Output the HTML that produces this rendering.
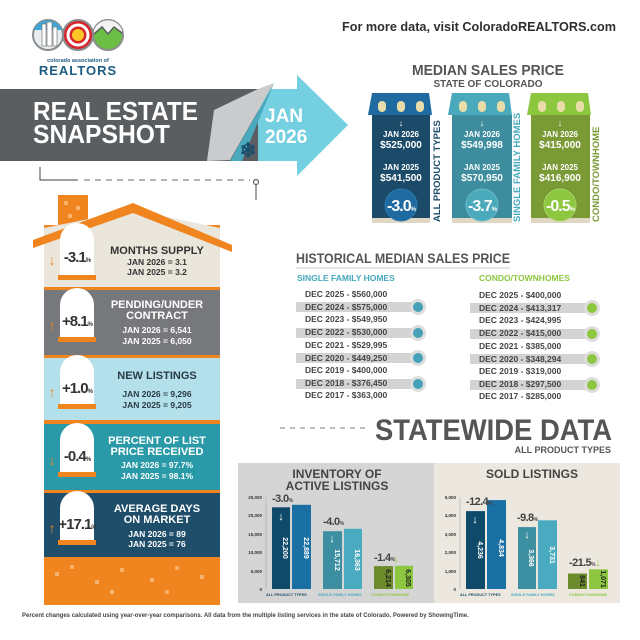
<!DOCTYPE html>
<html><head><meta charset="utf-8"><style>
html,body{margin:0;padding:0;background:#fff}
svg{display:block}
text{font-family:"Liberation Sans",sans-serif;font-weight:bold}
</style></head><body>
<svg width="640" height="640" viewBox="0 0 640 640" xmlns="http://www.w3.org/2000/svg">
<rect width="640" height="640" fill="#fff"/>
<!-- logo -->
<circle cx="48" cy="35" r="15" fill="#e8eef0" stroke="#8a8d8f" stroke-width="2"/>
<path d="M34 30 A15 15 0 0 1 62 30 Z" fill="#3ea6d8"/>
<rect x="42" y="24" width="4" height="22" fill="#fff" stroke="#777" stroke-width="0.7"/><rect x="47" y="22" width="5" height="24" fill="#fff" stroke="#777" stroke-width="0.7"/><rect x="53" y="27" width="4" height="19" fill="#fff" stroke="#777" stroke-width="0.7"/>
<circle cx="78" cy="35" r="15" fill="#d7252c" stroke="#8a8d8f" stroke-width="2"/>
<circle cx="78" cy="35" r="6" fill="#fdc628"/><circle cx="78" cy="35" r="10" fill="none" stroke="#fff" stroke-width="3"/>
<circle cx="108" cy="35" r="15" fill="#6cbf45" stroke="#8a8d8f" stroke-width="2"/>
<path d="M94 30 A15 15 0 0 1 122 30 L122 32 L114 27 L108 34 L102 27 L94 34Z" fill="#f3f3f3"/>
<path d="M94 34 L102 27 L108 34 L114 27 L122 33" fill="none" stroke="#5a5e61" stroke-width="1.5"/>
<text x="78" y="62" font-size="5.5" fill="#1d5c82" text-anchor="middle" font-weight="normal">colorado association of</text>
<text x="78" y="75" font-size="13" fill="#1d5c82" text-anchor="middle" font-weight="normal" letter-spacing="1">REALTORS</text>
<text x="342" y="31" font-size="13" fill="#2f2f2f" textLength="274" lengthAdjust="spacingAndGlyphs">For more data, visit ColoradoREALTORS.com</text>
<!-- banner -->
<path d="M245 89 L297 89 L297 75 L348 125 L297 176 L297 161 L205 161 Z" fill="#74cfe0"/>
<rect x="0" y="89" width="258" height="72" fill="#5a5e61"/>
<path d="M258 89 L274 83 L230 160 L207 161 L214 110 Z" fill="#c9cbcc"/>
<path d="M274 83 L230 161 L242 161 Z" fill="#4aa9bd"/>
<text x="33" y="120" font-size="26" fill="#fff" textLength="165" lengthAdjust="spacingAndGlyphs">REAL ESTATE</text>
<text x="33" y="143" font-size="26" fill="#fff" textLength="137" lengthAdjust="spacingAndGlyphs">SNAPSHOT</text>
<text x="265" y="122" font-size="19" fill="#fff" font-weight="normal">JAN</text>
<text x="265" y="143" font-size="19" fill="#fff" font-weight="normal">2026</text>
<text x="248" y="157" font-size="20" fill="#1b4e6d" text-anchor="middle" font-weight="normal">❄</text>
<path d="M40 167 V180 H78" fill="none" stroke="#666" stroke-width="1.2"/>
<line x1="84" y1="180" x2="250" y2="180" stroke="#888" stroke-width="1.2" stroke-dasharray="6,5"/>
<circle cx="256" cy="182" r="2.5" fill="none" stroke="#666" stroke-width="1.2"/>
<line x1="256" y1="185" x2="256" y2="200" stroke="#666" stroke-width="1.2"/>
<!-- house -->
<rect x="58" y="195" width="30" height="32" fill="#f0841f"/>
<rect x="64" y="201" width="4" height="4" fill="#f7b26b"/><rect x="76" y="206" width="4" height="4" fill="#f7b26b"/><rect x="68" y="214" width="4" height="4" fill="#f7b26b"/>
<rect x="44" y="225" width="176" height="380" fill="#f0841f"/>
<path d="M44 228 L133 210 L220 228 V287 H44Z" fill="#ebe6dc"/>
<path d="M33 240 L133 203 L232 245 L232 252 L133 213 L33 248Z" fill="#f0841f"/>
<rect x="44" y="290" width="176" height="65" fill="#77787b"/>
<rect x="44" y="358" width="176" height="62" fill="#b3e0ea"/>
<rect x="44" y="424" width="176" height="66" fill="#2b9aa8"/>
<rect x="44" y="493" width="176" height="64" fill="#1f4e6a"/>
<g fill="#f7b26b"><rect x="55" y="572" width="4" height="4"/><rect x="70" y="565" width="4" height="4"/><rect x="95" y="580" width="4" height="4"/><rect x="120" y="568" width="4" height="4"/><rect x="150" y="578" width="4" height="4"/><rect x="175" y="566" width="4" height="4"/><rect x="200" y="575" width="4" height="4"/><rect x="110" y="590" width="4" height="4"/><rect x="165" y="590" width="4" height="4"/></g>
<!-- badges -->
<g font-size="10" text-anchor="middle">
<path d="M60 278 V240 A17 17 0 0 1 94 240 V278Z" fill="#fff"/><rect x="58" y="275" width="38" height="5" fill="#f0841f"/>
<text x="77" y="262" font-size="15" fill="#333" letter-spacing="-1">-3.1<tspan font-size="6">%</tspan></text>
<text x="52" y="265" font-size="14" fill="#f0841f">↓</text>
<text x="157" y="254" font-size="11" fill="#333">MONTHS SUPPLY</text>
<text x="157" y="265" font-size="8.5" fill="#333">JAN 2026 = 3.1</text>
<text x="157" y="275" font-size="8.5" fill="#333">JAN 2025 = 3.2</text>

<path d="M60 340 V305 A17 17 0 0 1 94 305 V340Z" fill="#fff"/><rect x="58" y="337" width="38" height="5" fill="#f0841f"/>
<text x="77" y="326" font-size="15" fill="#333" letter-spacing="-1">+8.1<tspan font-size="6">%</tspan></text>
<text x="52" y="330" font-size="14" fill="#f0841f">↑</text>
<text x="157" y="308" font-size="11" fill="#fff">PENDING/UNDER</text>
<text x="157" y="319" font-size="11" fill="#fff">CONTRACT</text>
<text x="157" y="333" font-size="8.5" fill="#fff">JAN 2026 = 6,541</text>
<text x="157" y="344" font-size="8.5" fill="#fff">JAN 2025 = 6,050</text>

<path d="M60 407 V372 A17 17 0 0 1 94 372 V407Z" fill="#fff"/><rect x="58" y="404" width="38" height="5" fill="#f0841f"/>
<text x="77" y="393" font-size="15" fill="#333" letter-spacing="-1">+1.0<tspan font-size="6">%</tspan></text>
<text x="52" y="397" font-size="14" fill="#f0841f">↑</text>
<text x="157" y="379" font-size="11" fill="#2a3a44">NEW LISTINGS</text>
<text x="157" y="397" font-size="8.5" fill="#2a3a44">JAN 2026 = 9,296</text>
<text x="157" y="408" font-size="8.5" fill="#2a3a44">JAN 2025 = 9,205</text>

<path d="M60 475 V440 A17 17 0 0 1 94 440 V475Z" fill="#fff"/><rect x="58" y="472" width="38" height="5" fill="#f0841f"/>
<text x="77" y="461" font-size="15" fill="#333" letter-spacing="-1">-0.4<tspan font-size="6">%</tspan></text>
<text x="52" y="465" font-size="14" fill="#f0841f">↓</text>
<text x="157" y="444" font-size="11" fill="#fff">PERCENT OF LIST</text>
<text x="157" y="455" font-size="11" fill="#fff">PRICE RECEIVED</text>
<text x="157" y="468" font-size="8.5" fill="#fff">JAN 2026 = 97.7%</text>
<text x="157" y="479" font-size="8.5" fill="#fff">JAN 2025 = 98.1%</text>

<path d="M60 543 V508 A17 17 0 0 1 94 508 V543Z" fill="#fff"/><rect x="58" y="540" width="38" height="5" fill="#f0841f"/>
<text x="77" y="529" font-size="15" fill="#333" letter-spacing="-1">+17.1<tspan font-size="6">%</tspan></text>
<text x="52" y="533" font-size="14" fill="#f0841f">↑</text>
<text x="157" y="512" font-size="11" fill="#fff">AVERAGE DAYS</text>
<text x="157" y="523" font-size="11" fill="#fff">ON MARKET</text>
<text x="157" y="537" font-size="8.5" fill="#fff">JAN 2026 = 89</text>
<text x="157" y="547" font-size="8.5" fill="#fff">JAN 2025 = 76</text>
</g>
<!-- median sales price -->
<text x="412" y="75" font-size="15" fill="#555" textLength="152" lengthAdjust="spacingAndGlyphs">MEDIAN SALES PRICE</text>
<text x="488" y="87" font-size="10" fill="#555" text-anchor="middle">STATE OF COLORADO</text>
<g text-anchor="middle">
<path d="M372 93 H429 L432 115 H368Z" fill="#1f6aa0"/><rect x="372" y="115" width="58" height="103" fill="#1b4b68"/><rect x="372" y="218" width="58" height="5" fill="#e0d6c4"/>
<rect x="378" y="101" width="8" height="11" rx="4" fill="#e8dca8"/><rect x="397" y="101" width="8" height="11" rx="4" fill="#e8dca8"/><rect x="416" y="101" width="8" height="11" rx="4" fill="#e8dca8"/>
<text x="401" y="126" font-size="9" fill="#fff">↓</text>
<text x="401" y="137" font-size="8" fill="#fff">JAN 2026</text><text x="401" y="148" font-size="10" fill="#fff">$525,000</text>
<text x="401" y="170" font-size="8" fill="#fff">JAN 2025</text><text x="401" y="181" font-size="10" fill="#fff">$541,500</text>
<circle cx="401" cy="205" r="16" fill="#1f6aa0" stroke="#2a7cb3"/><text x="401" y="211" font-size="16" fill="#fff" letter-spacing="-1">-3.0<tspan font-size="6">%</tspan></text>
<text transform="translate(440,222) rotate(-90)" font-size="9.5" fill="#1b4b68" text-anchor="start">ALL PRODUCT TYPES</text>

<path d="M452 93 H509 L512 115 H448Z" fill="#4aa9bb"/><rect x="452" y="115" width="60" height="103" fill="#3d8d9e"/><rect x="452" y="218" width="60" height="5" fill="#e0d6c4"/>
<rect x="459" y="101" width="8" height="11" rx="4" fill="#e8dca8"/><rect x="478" y="101" width="8" height="11" rx="4" fill="#e8dca8"/><rect x="497" y="101" width="8" height="11" rx="4" fill="#e8dca8"/>
<text x="482" y="126" font-size="9" fill="#fff">↓</text>
<text x="482" y="137" font-size="8" fill="#fff">JAN 2026</text><text x="482" y="148" font-size="10" fill="#fff">$549,998</text>
<text x="482" y="170" font-size="8" fill="#fff">JAN 2025</text><text x="482" y="181" font-size="10" fill="#fff">$570,950</text>
<circle cx="482" cy="205" r="16" fill="#4aa9bb" stroke="#6cbdcc"/><text x="482" y="211" font-size="16" fill="#fff" letter-spacing="-1">-3.7<tspan font-size="6">%</tspan></text>
<text transform="translate(520,222) rotate(-90)" font-size="9.5" fill="#45a9bd" text-anchor="start">SINGLE FAMILY HOMES</text>

<path d="M531 93 H588 L591 115 H527Z" fill="#8dc63f"/><rect x="531" y="115" width="59" height="103" fill="#7a9a35"/><rect x="531" y="218" width="59" height="5" fill="#e0d6c4"/>
<rect x="538" y="101" width="8" height="11" rx="4" fill="#e8dca8"/><rect x="557" y="101" width="8" height="11" rx="4" fill="#e8dca8"/><rect x="576" y="101" width="8" height="11" rx="4" fill="#e8dca8"/>
<text x="560" y="126" font-size="9" fill="#fff">↓</text>
<text x="560" y="137" font-size="8" fill="#fff">JAN 2026</text><text x="560" y="148" font-size="10" fill="#fff">$415,000</text>
<text x="560" y="170" font-size="8" fill="#fff">JAN 2025</text><text x="560" y="181" font-size="10" fill="#fff">$416,900</text>
<circle cx="560" cy="205" r="16" fill="#8dc63f" stroke="#a5d665"/><text x="560" y="211" font-size="16" fill="#fff" letter-spacing="-1">-0.5<tspan font-size="6">%</tspan></text>
<text transform="translate(599,222) rotate(-90)" font-size="9.5" fill="#7a9a35" text-anchor="start">CONDO/TOWNHOME</text>
</g>
<!-- historical -->
<text x="296" y="263" font-size="13.5" fill="#555" textLength="214" lengthAdjust="spacingAndGlyphs">HISTORICAL MEDIAN SALES PRICE</text>
<line x1="296" y1="268" x2="510" y2="268" stroke="#ccc"/>
<text x="297" y="281" font-size="8.5" fill="#45a9bd">SINGLE FAMILY HOMES</text>
<text x="479" y="281" font-size="8.5" fill="#8dc63f">CONDO/TOWNHOMES</text>
<g fill="#d3d3d3"><rect x="296" y="302" width="122" height="10"/><rect x="296" y="328" width="122" height="10"/><rect x="296" y="353" width="122" height="10"/><rect x="296" y="379" width="122" height="10"/>
<rect x="470" y="303" width="122" height="10"/><rect x="470" y="329" width="122" height="10"/><rect x="470" y="354" width="122" height="10"/><rect x="470" y="380" width="122" height="10"/></g>
<g stroke="#ddd" stroke-width="3"><circle cx="418" cy="307" r="6.5" fill="#45a0b8"/><circle cx="418" cy="333" r="6.5" fill="#45a0b8"/><circle cx="418" cy="358" r="6.5" fill="#45a0b8"/><circle cx="418" cy="384" r="6.5" fill="#45a0b8"/>
<circle cx="592" cy="308" r="6.5" fill="#8dc63f"/><circle cx="592" cy="334" r="6.5" fill="#8dc63f"/><circle cx="592" cy="359" r="6.5" fill="#8dc63f"/><circle cx="592" cy="385" r="6.5" fill="#8dc63f"/></g>
<g font-size="8.5" fill="#444">
<text x="305" y="297">DEC 2025 - $560,000</text><text x="305" y="310">DEC 2024 - $575,000</text><text x="305" y="322">DEC 2023 - $549,950</text><text x="305" y="335">DEC 2022 - $530,000</text><text x="305" y="348">DEC 2021 - $529,995</text><text x="305" y="361">DEC 2020 - $449,250</text><text x="305" y="373">DEC 2019 - $400,000</text><text x="305" y="386">DEC 2018 - $376,450</text><text x="305" y="398">DEC 2017 - $363,000</text>
<text x="479" y="298">DEC 2025 - $400,000</text><text x="479" y="311">DEC 2024 - $413,317</text><text x="479" y="323">DEC 2023 - $424,995</text><text x="479" y="336">DEC 2022 - $415,000</text><text x="479" y="349">DEC 2021 - $385,000</text><text x="479" y="362">DEC 2020 - $348,294</text><text x="479" y="374">DEC 2019 - $319,000</text><text x="479" y="387">DEC 2018 - $297,500</text><text x="479" y="399">DEC 2017 - $285,000</text>
</g>
<line x1="280" y1="428" x2="368" y2="428" stroke="#999" stroke-width="1.2" stroke-dasharray="5,5"/>
<text x="375" y="440" font-size="30" fill="#555" textLength="237" lengthAdjust="spacingAndGlyphs">STATEWIDE DATA</text>
<text x="611" y="453" font-size="9" fill="#555" text-anchor="end">ALL PRODUCT TYPES</text>
<!-- panels -->
<rect x="238" y="463" width="196" height="140" fill="#d5d5d5"/>
<rect x="434" y="463" width="186" height="140" fill="#ece8df"/>
<text x="337" y="478" font-size="12" fill="#444" text-anchor="middle">INVENTORY OF</text>
<text x="337" y="490" font-size="12" fill="#444" text-anchor="middle">ACTIVE LISTINGS</text>
<text x="532" y="478" font-size="12" fill="#444" text-anchor="middle">SOLD LISTINGS</text>
<g font-size="4.5" fill="#333" text-anchor="end">
<text x="262" y="499">25,000</text><text x="262" y="517">20,000</text><text x="262" y="536">15,000</text><text x="262" y="554">10,000</text><text x="262" y="573">5,000</text><text x="262" y="591">0</text>
<text x="456" y="499">5,000</text><text x="456" y="517">4,000</text><text x="456" y="536">3,000</text><text x="456" y="554">2,000</text><text x="456" y="573">1,000</text><text x="456" y="591">0</text>
</g>
<line x1="266" y1="497" x2="266" y2="589" stroke="#999" stroke-width="0.5"/>
<line x1="460" y1="497" x2="460" y2="589" stroke="#999" stroke-width="0.5"/>
<rect x="272" y="507.3" width="18" height="81.7" fill="#0f4a6b"/><rect x="292" y="504.8" width="19" height="84.2" fill="#1a6fa3"/>
<rect x="323" y="531.2" width="19" height="57.8" fill="#3b8fa0"/><rect x="344" y="528.8" width="18" height="60.2" fill="#4aabc0"/>
<rect x="374" y="566.1" width="19" height="22.9" fill="#6d8b2a"/><rect x="395" y="565.8" width="18" height="23.2" fill="#8dc63f"/>
<rect x="466" y="511.1" width="19" height="77.9" fill="#0f4a6b"/><rect x="487" y="500.1" width="19" height="88.9" fill="#1a6fa3"/>
<rect x="518" y="527.1" width="18" height="61.9" fill="#3b8fa0"/><rect x="538" y="520.3" width="19" height="68.7" fill="#4aabc0"/>
<rect x="568" y="573.5" width="19" height="15.5" fill="#6d8b2a"/><rect x="589" y="569.3" width="19" height="19.7" fill="#8dc63f"/>
<g font-size="7" fill="#fff" text-anchor="middle">
<text transform="translate(283,548) rotate(90)">22,200</text><text transform="translate(304,548) rotate(90)">22,889</text>
<text transform="translate(335,560) rotate(90)">15,712</text><text transform="translate(355,560) rotate(90)">16,363</text>
<text transform="translate(386,578) rotate(90)" fill="#222">6,214</text><text transform="translate(406,578) rotate(90)" fill="#222">6,305</text>
<text transform="translate(478,550) rotate(90)">4,236</text><text transform="translate(499,548) rotate(90)">4,834</text>
<text transform="translate(529,558) rotate(90)">3,366</text><text transform="translate(550,555) rotate(90)">3,731</text>
<text transform="translate(580,581) rotate(90)" fill="#222">841</text><text transform="translate(601,579) rotate(90)" fill="#222">1,071</text>
</g>
<g font-size="11" fill="#fff" text-anchor="middle"><text x="281" y="520">↓</text><text x="332" y="542">↓</text><text x="475" y="523">↓</text><text x="527" y="538">↓</text></g>
<g font-size="11" fill="#8dc63f" text-anchor="middle"><text x="396" y="562">↓</text><text x="598" y="566">↓</text></g>
<g font-size="11" fill="#444" letter-spacing="-0.6">
<text x="272" y="502">-3.0<tspan font-size="5">%</tspan></text><text x="323" y="525">-4.0<tspan font-size="5">%</tspan></text><text x="374" y="561">-1.4<tspan font-size="5">%</tspan></text>
<text x="466" y="505">-12.4<tspan font-size="5">%</tspan></text><text x="517" y="521">-9.8<tspan font-size="5">%</tspan></text><text x="569" y="566">-21.5<tspan font-size="5">%</tspan></text>
</g>
<g font-size="3.8">
<text x="266" y="596" fill="#1b4b68">ALL PRODUCT TYPES</text><text x="318" y="596" fill="#45a9bd">SINGLE FAMILY HOMES</text><text x="371" y="596" fill="#8dc63f">CONDO/TOWNHOME</text>
<text x="460" y="596" fill="#1b4b68">ALL PRODUCT TYPES</text><text x="511" y="596" fill="#45a9bd">SINGLE FAMILY HOMES</text><text x="569" y="596" fill="#8dc63f">CONDO/TOWNHOME</text>
</g>
<text x="22" y="617" font-size="6" fill="#444" font-weight="normal">Percent changes calculated using year-over-year comparisons. All data from the multiple listing services in the state of Colorado. Powered by ShowingTime.</text>
</svg>
</body></html>
